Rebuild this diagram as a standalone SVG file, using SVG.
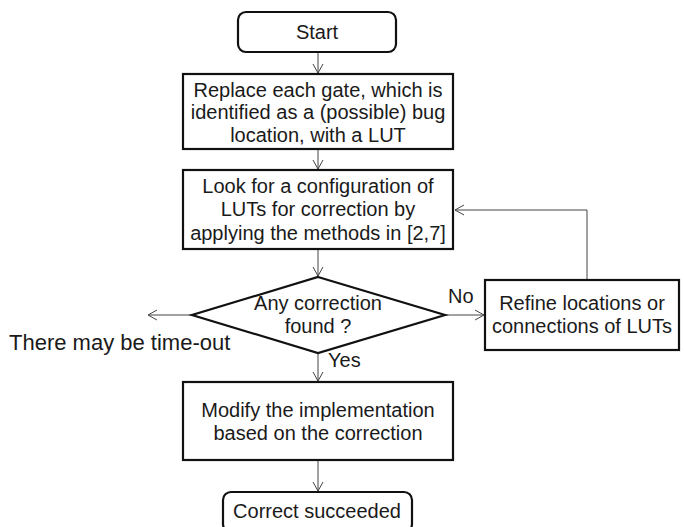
<svg xmlns="http://www.w3.org/2000/svg" width="684" height="527" viewBox="0 0 684 527">
  <style>
    .box { fill: #ffffff; stroke: #111111; stroke-width: 2.2; }
    .conn { fill: none; stroke: #444444; stroke-width: 1; }
    text { font-family: "Liberation Sans", Arial, sans-serif; font-size: 20px; fill: #1a1a1a; }
    .c { text-anchor: middle; }
  </style>
  <defs>
    <marker id="arrow" markerWidth="12" markerHeight="12" refX="10" refY="6" orient="auto" markerUnits="userSpaceOnUse">
      <path d="M1,1 L10,6 L1,11" fill="none" stroke="#444444" stroke-width="1"/>
    </marker>
  </defs>

  <g id="connectors">
    <line class="conn" x1="318" y1="52" x2="318" y2="73" marker-end="url(#arrow)"/>
    <line class="conn" x1="318" y1="149" x2="318" y2="169" marker-end="url(#arrow)"/>
    <line class="conn" x1="318" y1="249" x2="318" y2="276" marker-end="url(#arrow)"/>
    <line class="conn" x1="318" y1="353" x2="318" y2="381" marker-end="url(#arrow)"/>
    <line class="conn" x1="318" y1="460" x2="318" y2="491" marker-end="url(#arrow)"/>
    <line class="conn" x1="192" y1="315" x2="148" y2="315" marker-end="url(#arrow)"/>
    <line class="conn" x1="445" y1="315" x2="484" y2="315" marker-end="url(#arrow)"/>
    <polyline class="conn" points="587,280 587,210 455,210" marker-end="url(#arrow)"/>
    <text x="448" y="303">No</text>
    <text x="328" y="367">Yes</text>
    <text x="9" y="350" style="font-size:22px">There may be time-out</text>
  </g>

  <g id="start">
    <rect class="box" x="238" y="12" width="158" height="40" rx="8"/>
    <text class="c" x="317" y="39">Start</text>
  </g>

  <g id="replace">
    <rect class="box" x="183" y="74" width="270" height="75"/>
    <text class="c" x="318" y="97">Replace each gate, which is</text>
    <text class="c" x="318" y="119">identified as a (possible) bug</text>
    <text class="c" x="318" y="142">location, with a LUT</text>
  </g>

  <g id="search">
    <rect class="box" x="183" y="170" width="270" height="79"/>
    <text class="c" x="318" y="193">Look for a configuration of</text>
    <text class="c" x="318" y="216">LUTs for correction by</text>
    <text class="c" x="318" y="240">applying the methods in [2,7]</text>
  </g>

  <g id="decision">
    <polygon class="box" points="318,277 445,315 318,353 192,315"/>
    <text class="c" x="318" y="310">Any correction</text>
    <text class="c" x="318" y="333">found ?</text>
  </g>

  <g id="refine">
    <rect class="box" x="485" y="280" width="194" height="70"/>
    <text class="c" x="582" y="310">Refine locations or</text>
    <text class="c" x="582" y="333">connections of LUTs</text>
  </g>

  <g id="modify">
    <rect class="box" x="183" y="382" width="270" height="78"/>
    <text class="c" x="318" y="417">Modify the implementation</text>
    <text class="c" x="318" y="440">based on the correction</text>
  </g>

  <g id="done">
    <rect class="box" x="223" y="492" width="189" height="40" rx="8"/>
    <text class="c" x="317" y="518">Correct succeeded</text>
  </g>
</svg>
